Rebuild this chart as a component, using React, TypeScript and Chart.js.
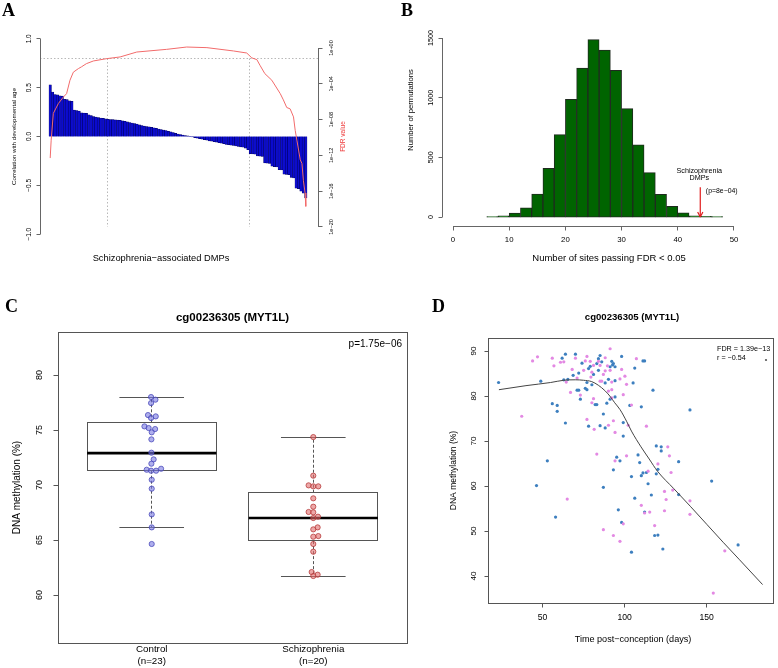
import React, { useEffect, useRef } from "react";
import { Chart, registerables } from "chart.js";

Chart.register(...registerables);

const W = 778;
const H = 668;
const SANS = '"Liberation Sans", Arial, Helvetica, sans-serif';
const SERIF = '"Liberation Serif", "Times New Roman", Times, serif';

// ---------------- Panel A: correlation of DMPs with developmental age ----------------
const dmpCorrelation = [
  0.53, 0.456, 0.43, 0.427, 0.417, 0.413, 0.38, 0.377, 0.365, 0.36,
  0.27, 0.265, 0.26, 0.243, 0.24, 0.237, 0.222, 0.215, 0.205, 0.198,
  0.193, 0.189, 0.185, 0.181, 0.177, 0.174, 0.172, 0.17, 0.168, 0.165,
  0.161, 0.155, 0.149, 0.143, 0.138, 0.133, 0.127, 0.12, 0.113, 0.107,
  0.102, 0.098, 0.094, 0.089, 0.083, 0.077, 0.072, 0.067, 0.061, 0.054,
  0.047, 0.04, 0.033, 0.026, 0.02, 0.015, 0.01, 0.006, 0.002, -0.005,
  -0.012, -0.017, -0.022, -0.027, -0.032, -0.038, -0.044, -0.049, -0.054, -0.059,
  -0.064, -0.069, -0.074, -0.08, -0.084, -0.088, -0.092, -0.097, -0.101, -0.106,
  -0.11, -0.12, -0.135, -0.175, -0.178, -0.18, -0.2, -0.202, -0.205, -0.27,
  -0.272, -0.275, -0.305, -0.31, -0.312, -0.34, -0.342, -0.385, -0.388, -0.39,
  -0.42, -0.425, -0.53, -0.535, -0.56, -0.58, -0.63,
];
const fdrSite = [
  1.0, 1.4, 2.3, 4.4, 6.4, 7.8, 9.2, 10.6, 12.7, 14.0, 16.0, 18.9, 24.4, 30.0,
  36.9, 49.3, 57.6, 66.0, 77.0, 82.5, 84.6, 86.7, 88.0, 90.0, 92.9, 96.4, 97.7,
  99.1, 100.5, 101.9, 102.6, 103.3, 104.7, 105.4, 106.0, 106.7, 107.0,
];
const fdrLog10 = [
  -12.3, -10.3, -7.3, -6.2, -5.5, -5.1, -3.6, -2.7, -2.3, -2.1, -1.75, -1.45, -1.19, -1.0,
  -0.45, -0.15, 0.11, 0.04, -0.33, -0.56, -1.1, -1.3, -1.93, -2.86, -3.6, -5.1, -5.8,
  -6.65, -6.8, -7.7, -9.2, -10.3, -12.5, -12.9, -14.8, -16.2, -17.7,
];
const fdrCutoffLog10 = -1.2;
const fdrCutSites = [24.6, 83.5];
const corrTicks = [-1, -0.5, 0, 0.5, 1];
const corrTickLabels = ["\u22121.0", "\u22120.5", "0.0", "0.5", "1.0"];
const fdrTicks = [0, -4, -8, -12, -16, -20];
const fdrTickLabels = ["1e+00", "1e\u221204", "1e\u221208", "1e\u221212", "1e\u221216", "1e\u221220"];

// ---------------- Panel B: permutation histogram ----------------
const binStart = [6, 8, 10, 12, 14, 16, 18, 20, 22, 24, 26, 28, 30, 32, 34, 36, 38, 40, 42, 44, 46];
const binWidth = 2;
const permCounts = [3, 11, 34, 78, 193, 408, 690, 986, 1249, 1486, 1399, 1229, 908, 606, 372, 190, 89, 36, 10, 5, 3];
const histXTicks = [0, 10, 20, 30, 40, 50];
const histYTicks = [0, 500, 1000, 1500];
const observedSites = 44;
const arrowTopCount = 250;

// ---------------- Panel C: boxplot ----------------
const groupLabels = ["Control", "Schizophrenia"];
const groupN = ["(n=23)", "(n=20)"];
const controlMeth = [
  78.0, 77.76, 77.45, 76.36, 76.09, 76.24, 75.33, 75.18, 75.09, 74.79, 74.15, 72.94,
  72.33, 71.94, 71.39, 71.3, 71.3, 71.48, 70.48, 69.67, 67.33, 66.15, 64.64,
];
const controlJitter = [
  -0.004, 0.023, -0.004, -0.023, -0.004, 0.025, -0.045, -0.019, 0.021, 0, -0.002, -0.002,
  0.012, -0.002, -0.031, -0.004, 0.027, 0.058, 0, 0, 0, 0, 0,
];
const sczMeth = [
  74.36, 70.85, 69.97, 69.88, 69.88, 68.79, 68.03, 67.55, 67.52, 67.12, 67.0, 66.15,
  65.97, 65.36, 65.3, 64.64, 63.94, 62.09, 61.85, 61.73,
];
const sczJitter = [
  0, 0, -0.029, 0, 0.031, 0, 0, -0.029, 0, 0.029, 0, 0.027, 0, 0.031, 0, 0, 0, -0.01, 0.027, 0,
];
// [lower whisker, Q1, median, Q3, upper whisker]
const boxStats = [
  [66.1, 71.3, 72.9, 75.7, 78.0],
  [61.7, 64.9, 67.0, 69.3, 74.3],
];
const boxYTicks = [60, 65, 70, 75, 80];

// ---------------- Panel D: methylation vs age ----------------
const blueAge = [
  23.3, 49.0, 46.4, 53.0, 56.0, 59.0, 59.0, 58.0, 62.0, 64.0, 63.0, 65.5, 64.0, 68.7, 70.1,
  71.1, 72.1, 73.1, 72.1, 74.1, 77.1, 76.1, 77.1, 78.1, 78.1, 79.1, 80.1, 81.1, 82.1, 83.1,
  83.1, 84.1, 84.1, 85.1, 85.1, 86.1, 87.1, 87.1, 88.2, 88.2, 89.2, 90.2, 91.2, 91.2, 92.2,
  92.7, 93.2, 93.2, 94.2, 94.2, 94.2, 95.2, 96.2, 97.2, 98.2, 98.2, 99.2, 99.2, 103.2, 104.2,
  104.2, 105.2, 106.2, 106.2, 108.2, 109.2, 110.2, 110.2, 111.2, 111.2, 112.2, 112.2, 113.3, 114.3, 116.3,
  117.3, 118.3, 119.3, 119.3, 120.3, 120.3, 122.3, 122.3, 123.3, 132.9, 132.9, 139.8, 153.0, 169.1,
];
const blueMeth = [
  83.0, 83.3, 60.1, 65.6, 78.3, 77.9, 76.6, 53.1, 88.4, 89.3, 83.6, 83.7, 74.0, 84.6, 89.3,
  81.3, 81.3, 79.3, 85.1, 87.3, 83.0, 81.7, 81.4, 73.3, 86.1, 86.6, 82.5, 84.8, 78.1, 78.1,
  87.2, 85.7, 88.3, 89.0, 73.4, 87.6, 76.0, 59.7, 82.9, 72.9, 78.4, 83.7, 86.5, 79.3, 87.7,
  86.9, 87.2, 63.6, 86.5, 83.4, 79.8, 66.4, 54.7, 65.6, 88.8, 51.9, 74.1, 71.1, 77.9, 62.1,
  45.3, 82.9, 86.2, 57.3, 66.9, 65.2, 77.6, 62.3, 62.9, 87.8, 87.8, 54.2, 63.0, 60.5, 58.0,
  81.3, 49.0, 68.9, 62.7, 49.1, 63.7, 68.7, 67.8, 46.0, 65.4, 58.1, 76.9, 61.1, 46.9,
];
const pinkAge = [
  37.4, 44.0, 47.0, 56.0, 57.0, 61.0, 63.0, 64.5, 65.1, 67.1, 68.1, 70.1, 71.1, 73.1, 75.1,
  76.1, 77.1, 77.1, 79.1, 79.5, 80.1, 81.1, 81.1, 80.1, 81.5, 83.1, 84.1, 85.1, 85.1, 86.1,
  87.1, 87.1, 88.2, 88.2, 89.6, 90.2, 90.2, 91.2, 91.2, 92.2, 92.2, 92.2, 93.2, 93.2, 94.2,
  94.2, 97.2, 97.2, 98.2, 99.2, 99.2, 100.2, 101.2, 101.2, 102.2, 104.2, 107.2, 110.2, 112.2, 113.3,
  114.3, 115.3, 118.3, 120.3, 124.3, 124.3, 125.3, 126.3, 127.3, 128.3, 129.3, 139.8, 139.8, 154.0, 161.0,
];
const pinkMeth = [
  75.5, 87.8, 88.7, 88.4, 86.7, 87.5, 87.6, 83.1, 57.1, 80.8, 85.9, 88.4, 84.0, 80.2, 85.7,
  87.8, 88.8, 74.8, 87.7, 84.2, 85.3, 86.8, 79.4, 78.5, 72.6, 67.1, 87.7, 86.8, 83.3, 83.3,
  84.8, 50.3, 88.5, 85.6, 86.7, 81.1, 73.5, 90.5, 85.7, 83.1, 81.4, 79.6, 74.5, 49.0, 71.9,
  65.6, 83.8, 47.7, 85.9, 80.3, 51.6, 84.4, 82.6, 66.7, 73.5, 78.0, 88.3, 55.7, 54.0, 73.3,
  63.3, 54.2, 51.2, 64.9, 58.8, 54.5, 57.0, 68.7, 66.7, 63.0, 59.1, 56.7, 53.7, 36.2, 45.6,
];
const loessAge = [23.5, 40, 55, 63, 70, 75, 80, 84, 88, 91, 94, 97.2, 101.2, 104.2, 110, 115, 120, 130, 140, 150, 160, 170, 184];
const loessMeth = [81.4, 82.3, 83.0, 83.5, 83.6, 83.5, 83.2, 82.4, 81.2, 80.0, 78.5, 77.0, 74.4, 72.2, 68.7, 66.0, 63.3, 59.4, 55.5, 51.5, 47.5, 43.6, 38.1];
const scatterXTicks = [50, 100, 150];
const scatterYTicks = [40, 50, 60, 70, 80, 90];

// ---------------- helpers ----------------
type Area = { l: number; t: number; r: number; b: number };

function crisp(v: number) {
  return Math.round(v - 0.5) + 0.5;
}
function seg(ctx: CanvasRenderingContext2D, x1: number, y1: number, x2: number, y2: number) {
  ctx.beginPath();
  ctx.moveTo(x1, y1);
  ctx.lineTo(x2, y2);
  ctx.stroke();
}
function text(
  ctx: CanvasRenderingContext2D,
  s: string,
  x: number,
  y: number,
  size: number,
  o: { bold?: boolean; color?: string; align?: CanvasTextAlign; baseline?: CanvasTextBaseline; rot?: boolean; family?: string } = {}
) {
  ctx.save();
  ctx.translate(x, y);
  if (o.rot) ctx.rotate(-Math.PI / 2);
  ctx.font = `${o.bold ? "bold " : ""}${size}px ${o.family || SANS}`;
  ctx.fillStyle = o.color || "#000";
  ctx.textAlign = o.align || "center";
  ctx.textBaseline = o.baseline || "middle";
  ctx.fillText(s, 0, 0);
  ctx.restore();
}
function letter(ctx: CanvasRenderingContext2D, s: string, x: number, y: number) {
  text(ctx, s, x, y, 18, { bold: true, family: SERIF, align: "left", baseline: "alphabetic" });
}
function baseOptions(area: Area, scales: any) {
  return {
    responsive: false,
    maintainAspectRatio: false,
    animation: false as const,
    events: [] as any[],
    layout: { padding: { left: area.l, top: area.t, right: W - area.r, bottom: H - area.b } },
    plugins: { legend: { display: false }, tooltip: { enabled: false } },
    scales,
  };
}
function hidden(min: number, max: number, extra: any = {}) {
  return { type: "linear", display: false, min, max, offset: false, grid: { offset: false }, ...extra };
}

// ---------------- Panel configs ----------------
const areaA: Area = { l: 40, t: 31, r: 318, b: 242 };
const areaB: Area = { l: 442, t: 20, r: 745, b: 226 };
const areaC: Area = { l: 58, t: 332, r: 407, b: 643 };
const areaD: Area = { l: 488, t: 338, r: 777, b: 603 };

function configA(): any {
  const plugin = {
    id: "panelA",
    beforeDatasetsDraw(chart: any) {
      const { ctx, chartArea: a, scales } = chart;
      const x = scales.x;
      const y2 = scales.y2;
      ctx.save();
      ctx.strokeStyle = "#b8b8b8";
      ctx.lineWidth = 1;
      ctx.setLineDash([1.5, 2]);
      const yc = crisp(y2.getPixelForValue(fdrCutoffLog10));
      seg(ctx, a.left, yc, a.right, yc);
      fdrCutSites.forEach((s) => {
        const px = crisp(x.getPixelForValue(s));
        seg(ctx, px, yc, px, y2.getPixelForValue(-20));
      });
      ctx.restore();
    },
    afterDraw(chart: any) {
      const { ctx, chartArea: a, scales } = chart;
      const y = scales.y;
      const y2 = scales.y2;
      ctx.save();
      ctx.strokeStyle = "#666";
      ctx.lineWidth = 1;
      const lx = crisp(a.left);
      const py = corrTicks.map((v) => y.getPixelForValue(v));
      seg(ctx, lx, py[0], lx, py[py.length - 1]);
      py.forEach((p) => seg(ctx, lx, crisp(p), lx - 4, crisp(p)));
      corrTickLabels.forEach((s, i) => text(ctx, s, a.left - 11, py[i], 6.5, { rot: true }));
      const rx = crisp(a.right);
      const p2 = fdrTicks.map((v) => y2.getPixelForValue(v));
      seg(ctx, rx, p2[0], rx, p2[p2.length - 1]);
      p2.forEach((p) => seg(ctx, rx, crisp(p), rx + 4, crisp(p)));
      fdrTickLabels.forEach((s, i) => text(ctx, s, a.right + 13, p2[i], 5.5, { rot: true }));
      const mid = (a.top + a.bottom) / 2;
      text(ctx, "Correlation with developmental age", 14, mid, 6.2, { rot: true });
      text(ctx, "FDR value", 343, mid, 6.5, { rot: true, color: "#ee3a3a" });
      text(ctx, "Schizophrenia\u2212associated DMPs", 161, 258, 9.3);
      letter(ctx, "A", 2, 16);
      ctx.restore();
    },
  };
  return {
    type: "bar",
    data: {
      datasets: [
        {
          type: "line",
          data: fdrSite.map((s, i) => ({ x: s, y: fdrLog10[i] })),
          borderColor: "#f26b6b",
          borderWidth: 1,
          pointRadius: 0,
          tension: 0,
          yAxisID: "y2",
          xAxisID: "x",
          order: 0,
        },
        {
          type: "bar",
          data: dmpCorrelation.map((v, i) => ({ x: i + 1, y: v })),
          backgroundColor: "#0b0bcf",
          borderColor: "#00005a",
          borderWidth: 0.5,
          barPercentage: 1,
          categoryPercentage: 1,
          grouped: false,
          yAxisID: "y",
          xAxisID: "x",
          order: 1,
        },
      ],
    },
    options: baseOptions(areaA, {
      x: hidden(-3.23, 112.06),
      y: hidden(-1.08, 1.08),
      y2: hidden(-21.68, 1.9, { position: "right" }),
    }),
    plugins: [plugin],
  };
}

function configB(): any {
  const plugin = {
    id: "panelB",
    afterDraw(chart: any) {
      const { ctx, chartArea: a, scales } = chart;
      const x = scales.x;
      const y = scales.y;
      ctx.save();
      ctx.strokeStyle = "#666";
      ctx.lineWidth = 1;
      const lx = crisp(a.left);
      const py = histYTicks.map((v) => y.getPixelForValue(v));
      seg(ctx, lx, py[0], lx, py[py.length - 1]);
      py.forEach((p) => seg(ctx, lx, crisp(p), lx - 4, crisp(p)));
      histYTicks.forEach((v, i) => text(ctx, String(v), a.left - 11, py[i], 7.2, { rot: true }));
      const by = crisp(a.bottom);
      const px = histXTicks.map((v) => x.getPixelForValue(v));
      seg(ctx, px[0], by, px[px.length - 1], by);
      px.forEach((p) => seg(ctx, crisp(p), by, crisp(p), by + 4));
      histXTicks.forEach((v, i) => text(ctx, String(v), px[i], a.bottom + 14, 7.8));
      text(ctx, "Number of permutations", 411, 110, 7.6, { rot: true });
      text(ctx, "Number of sites passing FDR < 0.05", 609, 258, 9.5);
      // observed value arrow
      const ax = x.getPixelForValue(observedSites);
      const top = y.getPixelForValue(arrowTopCount);
      const tip = y.getPixelForValue(0);
      ctx.strokeStyle = "#e01c1c";
      ctx.lineWidth = 1.2;
      seg(ctx, ax, top, ax, tip);
      seg(ctx, ax, tip, ax - 2.6, tip - 5);
      seg(ctx, ax, tip, ax + 2.6, tip - 5);
      text(ctx, "Schizophrenia", ax - 1, 171, 7.2);
      text(ctx, "DMPs", ax - 1, 178.5, 7.2);
      text(ctx, "(p=8e\u221204)", ax + 21.5, 191, 6.9);
      letter(ctx, "B", 401, 16);
      ctx.restore();
    },
  };
  return {
    type: "bar",
    data: {
      datasets: [
        {
          data: binStart.map((s, i) => ({ x: s + binWidth / 2, y: permCounts[i] })),
          backgroundColor: "#006400",
          borderColor: "#1f2a1f",
          borderWidth: 1,
          borderSkipped: false,
          barPercentage: 1,
          categoryPercentage: 1,
        },
      ],
    },
    options: baseOptions(areaB, {
      x: hidden(-1.96, 51.96, { ticks: { stepSize: 10 } }),
      y: hidden(-75, 1651),
    }),
    plugins: [plugin],
  };
}

function configC(): any {
  const plugin = {
    id: "panelC",
    beforeDatasetsDraw(chart: any) {
      const { ctx, scales } = chart;
      const x = scales.x;
      const y = scales.y;
      ctx.save();
      boxStats.forEach((st, g) => {
        const c = g + 1;
        const xl = x.getPixelForValue(c - 0.4);
        const xr = x.getPixelForValue(c + 0.4);
        const cl = x.getPixelForValue(c - 0.2);
        const cr = x.getPixelForValue(c + 0.2);
        const xc = crisp(x.getPixelForValue(c));
        const [lo, q1, med, q3, hi] = st.map((v) => y.getPixelForValue(v));
        ctx.strokeStyle = "#555";
        ctx.lineWidth = 1;
        ctx.setLineDash([3, 2]);
        seg(ctx, xc, q3, xc, hi);
        seg(ctx, xc, q1, xc, lo);
        ctx.setLineDash([]);
        seg(ctx, cl, crisp(hi), cr, crisp(hi));
        seg(ctx, cl, crisp(lo), cr, crisp(lo));
        ctx.strokeRect(crisp(xl), crisp(q3), Math.round(xr - xl), Math.round(q1 - q3));
        ctx.strokeStyle = "#000";
        ctx.lineWidth = 2.6;
        seg(ctx, xl, med, xr, med);
      });
      ctx.restore();
    },
    afterDraw(chart: any) {
      const { ctx, chartArea: a, scales } = chart;
      const x = scales.x;
      const y = scales.y;
      ctx.save();
      ctx.strokeStyle = "#555";
      ctx.lineWidth = 1;
      ctx.strokeRect(crisp(a.left), crisp(a.top), Math.round(a.right - a.left), Math.round(a.bottom - a.top));
      const lx = crisp(a.left);
      boxYTicks.forEach((v) => {
        const p = y.getPixelForValue(v);
        seg(ctx, lx, crisp(p), lx - 5, crisp(p));
        text(ctx, String(v), 40, p, 9, { rot: true });
      });
      groupLabels.forEach((s, i) => {
        const px = x.getPixelForValue(i + 1);
        text(ctx, s, px, 649, 9.8);
        text(ctx, groupN[i], px, 661, 9.8);
      });
      text(ctx, "DNA methylation (%)", 17, (a.top + a.bottom) / 2, 10, { rot: true });
      text(ctx, "cg00236305 (MYT1L)", (a.left + a.right) / 2, 318, 11.5, { bold: true });
      text(ctx, "p=1.75e\u221206", 402, 344, 10, { align: "right" });
      letter(ctx, "C", 5, 311.5);
      ctx.restore();
    },
  };
  return {
    type: "scatter",
    data: {
      datasets: [
        {
          data: controlMeth.map((v, i) => ({ x: 1 + controlJitter[i], y: v })),
          pointRadius: 2.6,
          backgroundColor: "rgba(120,120,225,0.6)",
          borderColor: "rgba(70,70,185,0.95)",
          borderWidth: 0.8,
        },
        {
          data: sczMeth.map((v, i) => ({ x: 2 + sczJitter[i], y: v })),
          pointRadius: 2.6,
          backgroundColor: "rgba(225,110,110,0.6)",
          borderColor: "rgba(180,55,55,0.95)",
          borderWidth: 0.8,
        },
      ],
    },
    options: baseOptions(areaC, {
      x: hidden(0.42, 2.58),
      y: hidden(55.64, 83.91),
    }),
    plugins: [plugin],
  };
}

function configD(): any {
  const plugin = {
    id: "panelD",
    afterDraw(chart: any) {
      const { ctx, chartArea: a, scales } = chart;
      const x = scales.x;
      const y = scales.y;
      ctx.save();
      ctx.strokeStyle = "#555";
      ctx.lineWidth = 1;
      ctx.strokeRect(crisp(a.left), crisp(a.top), Math.round(a.right - a.left) - 1, Math.round(a.bottom - a.top));
      const lx = crisp(a.left);
      scatterYTicks.forEach((v) => {
        const p = y.getPixelForValue(v);
        seg(ctx, lx, crisp(p), lx - 4, crisp(p));
        text(ctx, String(v), 474, p, 8.1, { rot: true });
      });
      const by = crisp(a.bottom);
      scatterXTicks.forEach((v) => {
        const p = x.getPixelForValue(v);
        seg(ctx, crisp(p), by, crisp(p), by + 4);
        text(ctx, String(v), p, 618, 8.6);
      });
      text(ctx, "DNA methylation (%)", 454, (a.top + a.bottom) / 2, 8.5, { rot: true });
      text(ctx, "Time post\u2212conception (days)", 633, 639, 9.1);
      text(ctx, "cg00236305 (MYT1L)", 632, 317, 9.6, { bold: true });
      text(ctx, "FDR = 1.39e\u221213", 717, 349, 7.2, { align: "left" });
      text(ctx, "r = \u22120.54", 717, 358, 7.2, { align: "left" });
      ctx.fillStyle = "#555";
      ctx.beginPath();
      ctx.arc(766, 360, 1.1, 0, Math.PI * 2);
      ctx.fill();
      letter(ctx, "D", 432, 311.5);
      ctx.restore();
    },
  };
  return {
    type: "scatter",
    data: {
      datasets: [
        {
          type: "line",
          data: loessAge.map((v, i) => ({ x: v, y: loessMeth[i] })),
          borderColor: "#444",
          borderWidth: 1,
          pointRadius: 0,
          cubicInterpolationMode: "monotone",
          order: 0,
        },
        {
          data: pinkAge.map((v, i) => ({ x: v, y: pinkMeth[i] })),
          pointRadius: 1.6,
          borderWidth: 0,
          backgroundColor: "#e389e3",
          order: 1,
        },
        {
          data: blueAge.map((v, i) => ({ x: v, y: blueMeth[i] })),
          pointRadius: 1.6,
          borderWidth: 0,
          backgroundColor: "#3d7fbf",
          order: 2,
        },
      ],
    },
    options: baseOptions(areaD, {
      x: hidden(16.87, 190.96),
      y: hidden(34.0, 92.89),
    }),
    plugins: [plugin],
  };
}

export default function App() {
  const r0 = useRef<HTMLCanvasElement>(null);
  const r1 = useRef<HTMLCanvasElement>(null);
  const r2 = useRef<HTMLCanvasElement>(null);
  const r3 = useRef<HTMLCanvasElement>(null);
  useEffect(() => {
    const charts = [
      new Chart(r0.current as HTMLCanvasElement, configA()),
      new Chart(r1.current as HTMLCanvasElement, configB()),
      new Chart(r2.current as HTMLCanvasElement, configC()),
      new Chart(r3.current as HTMLCanvasElement, configD()),
    ];
    return () => charts.forEach((c) => c.destroy());
  }, []);
  const st: React.CSSProperties = { position: "absolute", left: 0, top: 0, width: W, height: H };
  return (
    <div style={{ position: "absolute", left: 0, top: 0, width: W, height: H, background: "#fff" }}>
      <canvas ref={r0} width={W} height={H} style={st} />
      <canvas ref={r1} width={W} height={H} style={st} />
      <canvas ref={r2} width={W} height={H} style={st} />
      <canvas ref={r3} width={W} height={H} style={st} />
    </div>
  );
}
